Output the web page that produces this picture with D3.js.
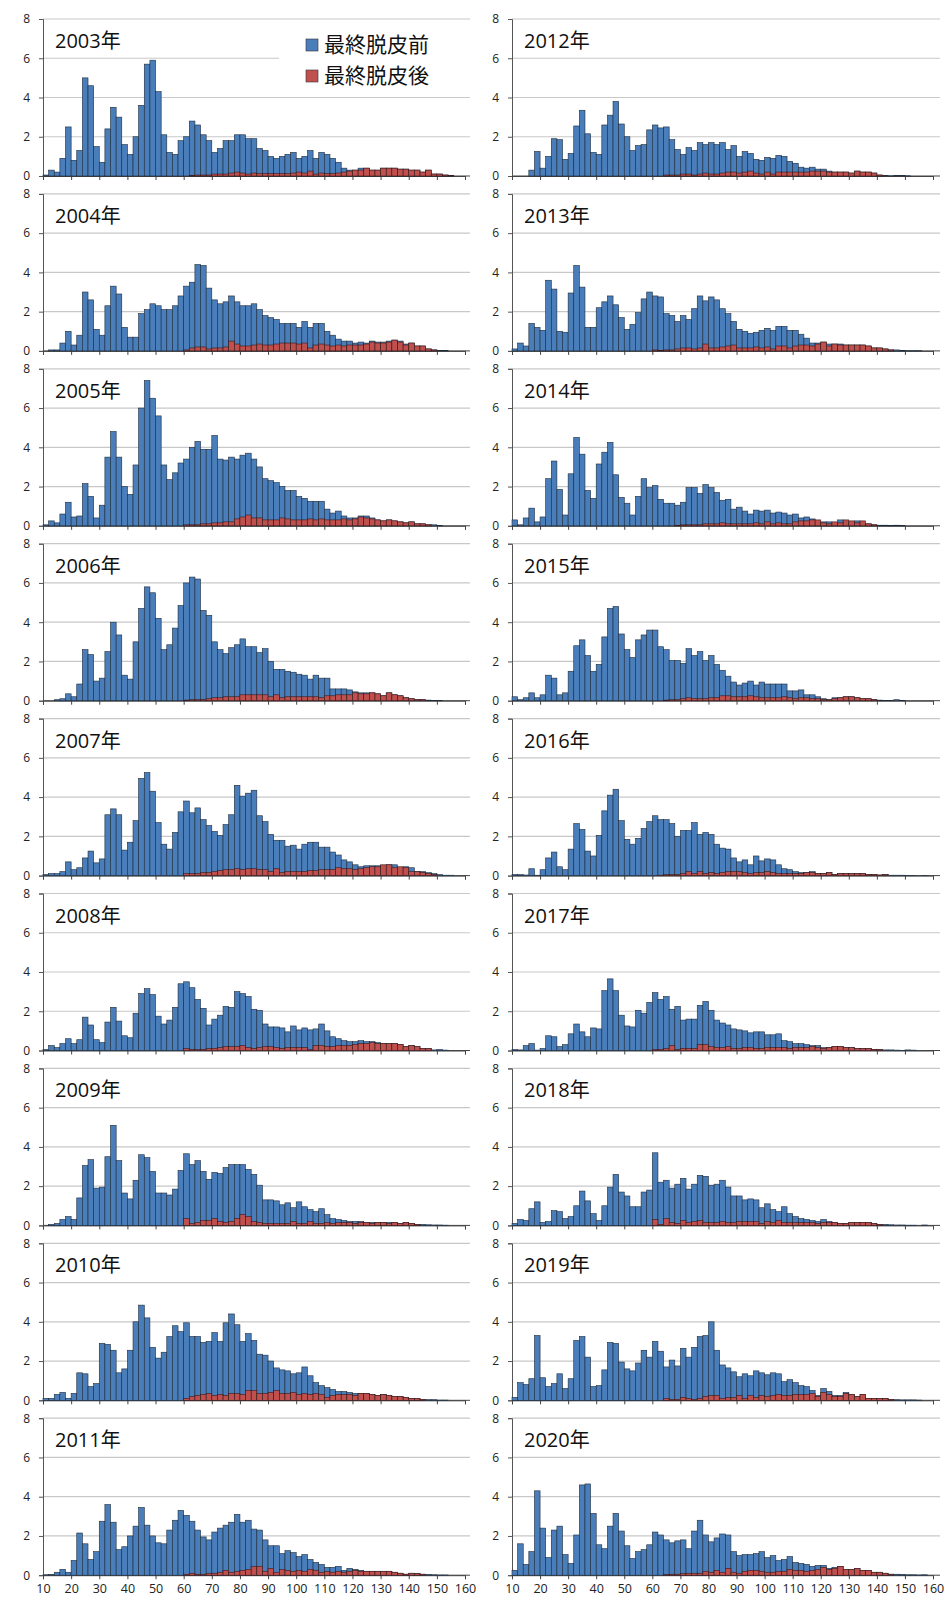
<!DOCTYPE html>
<html><head><meta charset="utf-8">
<script src="https://cdn.jsdelivr.net/npm/d3@7"></script>
<style>body{margin:0;background:#fff}svg{display:block}</style>
</head><body>
<script>
const years = [2003,2004,2005,2006,2007,2008,2009,2010,2011,2012,2013,2014,2015,2016,2017,2018,2019,2020];
const binStarts = d3.range(10,158,2); // 2mm bins 10..156
const yTicks = [0,2,4,6,8];
const xTicks = [10,20,30,40,50,60,70,80,90,100,110,120,130,140,150,160];
const legendLabels = ["最終脱皮前","最終脱皮後"];

const blue2003=[0.05,0.3,0.2,0.9,2.5,0.8,1.3,5.0,4.6,1.5,0.7,2.4,3.5,3.0,1.6,1.1,2.0,3.6,5.7,5.9,4.3,2.1,1.2,1.1,1.8,2.0,2.8,2.6,2.1,1.8,1.2,1.4,1.8,1.8,2.1,2.1,1.9,1.9,1.4,1.3,1.0,0.9,1.0,1.1,1.2,0.9,1.0,1.3,0.9,1.2,1.1,0.9,0.7,0.4,0.3,0.3,0.4,0.4,0.3,0.3,0.4,0.4,0.4,0.35,0.35,0.3,0.3,0.2,0.3,0.1,0.1,0.05,0.02,0];
const red2003=[0,0,0,0,0,0,0,0,0,0,0,0,0,0,0,0,0,0,0,0,0,0,0,0,0,0,0.03,0.05,0.05,0.05,0.1,0.1,0.1,0.15,0.2,0.15,0.1,0.15,0.12,0.12,0.12,0.12,0.12,0.12,0.15,0.2,0.15,0.25,0.1,0.15,0.12,0.12,0.15,0.2,0.25,0.3,0.3,0.4,0.3,0.3,0.4,0.4,0.4,0.35,0.35,0.3,0.3,0.2,0.3,0.1,0.1,0.05,0.02,0];
const blue2004=[0,0.05,0.05,0.4,1.0,0.3,0.8,3.0,2.6,1.1,0.8,2.3,3.3,2.9,1.2,0.7,0.7,1.9,2.1,2.4,2.3,2.1,2.1,2.3,2.8,3.3,3.5,4.4,4.35,3.2,2.6,2.4,2.5,2.8,2.5,2.3,2.3,2.4,2.1,1.8,1.7,1.6,1.4,1.4,1.4,1.2,1.5,1.2,1.4,1.4,1.0,0.8,0.6,0.5,0.5,0.4,0.45,0.4,0.5,0.45,0.45,0.5,0.55,0.5,0.35,0.4,0.25,0.25,0.1,0.05,0.03,0.02,0,0];
const red2004=[0,0,0,0,0,0,0,0,0,0,0,0,0,0,0,0,0,0,0,0,0,0,0,0,0,0.05,0.15,0.2,0.2,0.1,0.15,0.15,0.2,0.5,0.35,0.25,0.25,0.3,0.35,0.3,0.3,0.35,0.4,0.4,0.4,0.35,0.4,0.15,0.3,0.35,0.3,0.25,0.3,0.25,0.3,0.3,0.3,0.35,0.45,0.4,0.4,0.45,0.55,0.45,0.3,0.4,0.25,0.25,0.1,0.05,0,0,0,0];
const blue2005=[0.05,0.25,0.15,0.6,1.2,0.45,0.5,2.15,1.5,0.4,1.05,3.5,4.8,3.5,2.0,1.6,3.1,6.0,7.4,6.5,5.6,3.1,2.35,2.7,3.2,3.4,4.0,4.3,3.9,3.9,4.6,3.4,3.35,3.5,3.4,3.6,3.7,3.4,3.0,2.4,2.3,2.2,2.0,1.8,1.8,1.5,1.4,1.25,1.25,1.25,0.85,0.65,0.75,0.5,0.4,0.4,0.5,0.5,0.4,0.3,0.25,0.3,0.25,0.2,0.15,0.2,0.1,0.1,0.05,0.05,0.02,0,0,0];
const red2005=[0,0,0,0,0,0,0,0,0,0,0,0,0,0,0,0,0,0,0,0,0,0,0,0,0,0.05,0.05,0.05,0.1,0.1,0.15,0.15,0.2,0.2,0.35,0.45,0.55,0.4,0.4,0.3,0.3,0.3,0.4,0.35,0.3,0.3,0.3,0.35,0.3,0.35,0.3,0.3,0.3,0.35,0.3,0.35,0.45,0.4,0.35,0.3,0.25,0.3,0.25,0.2,0.15,0.2,0.1,0.1,0.05,0,0,0,0,0];
const blue2006=[0,0,0.05,0.1,0.35,0.2,0.85,2.6,2.35,1.0,1.15,2.5,4.0,3.35,1.3,1.1,3.0,4.7,5.8,5.5,4.2,2.6,2.85,3.7,4.85,6.0,6.3,6.2,4.6,4.35,3.0,2.6,2.4,2.7,2.85,3.15,2.75,2.75,2.45,2.65,2.0,1.6,1.6,1.5,1.45,1.35,1.3,1.1,1.3,1.15,1.15,0.6,0.6,0.6,0.55,0.45,0.4,0.4,0.4,0.35,0.25,0.4,0.3,0.25,0.15,0.1,0.05,0.05,0.03,0.02,0.02,0,0,0];
const red2006=[0,0,0,0,0,0,0,0,0,0,0,0,0,0,0,0,0,0,0,0,0,0,0,0,0,0.03,0.05,0.05,0.05,0.1,0.15,0.15,0.2,0.2,0.2,0.3,0.3,0.3,0.3,0.3,0.2,0.3,0.15,0.2,0.2,0.2,0.2,0.2,0.2,0.15,0.25,0.25,0.3,0.3,0.3,0.4,0.35,0.35,0.4,0.35,0.25,0.4,0.3,0.25,0.15,0.1,0.05,0.05,0,0,0,0,0,0];
const blue2007=[0.05,0.1,0.1,0.2,0.7,0.3,0.4,0.9,1.25,0.65,0.85,3.1,3.4,3.1,1.3,1.7,2.8,4.95,5.25,4.3,2.7,1.6,1.35,2.2,3.25,3.8,3.2,3.45,2.85,2.55,2.25,2.05,2.6,3.1,4.6,4.05,4.2,4.35,3.05,2.75,2.1,1.8,1.8,1.5,1.55,1.35,1.6,1.7,1.7,1.45,1.45,1.2,1.05,0.8,0.7,0.55,0.45,0.5,0.5,0.5,0.5,0.55,0.55,0.4,0.45,0.4,0.2,0.2,0.15,0.1,0.05,0.02,0.02,0];
const red2007=[0,0,0,0,0,0,0,0,0,0,0,0,0,0,0,0,0,0,0,0,0,0,0,0,0,0.1,0.1,0.1,0.15,0.15,0.2,0.25,0.3,0.3,0.35,0.3,0.35,0.35,0.3,0.3,0.2,0.35,0.15,0.2,0.2,0.2,0.2,0.25,0.25,0.3,0.3,0.3,0.4,0.35,0.35,0.3,0.35,0.4,0.45,0.45,0.55,0.55,0.4,0.45,0.4,0.2,0.2,0.15,0.1,0.05,0,0,0,0];
const blue2008=[0.05,0.25,0.15,0.35,0.6,0.35,0.55,1.7,1.3,0.55,0.4,1.45,2.2,1.5,0.75,0.65,1.9,2.9,3.15,2.85,1.75,1.35,1.55,2.2,3.4,3.5,3.2,2.6,2.15,1.3,1.6,1.8,2.25,2.2,3.0,2.9,2.75,2.1,2.05,1.35,1.2,1.2,1.15,0.95,1.25,1.05,1.15,1.05,1.1,1.35,1.0,0.7,0.6,0.5,0.45,0.45,0.5,0.45,0.45,0.4,0.35,0.35,0.35,0.3,0.2,0.25,0.2,0.1,0.1,0.03,0.05,0.02,0,0];
const red2008=[0,0,0,0,0,0,0,0,0,0,0,0,0,0,0,0,0,0,0,0,0,0,0,0,0,0.1,0.05,0.05,0.05,0.1,0.1,0.15,0.2,0.2,0.2,0.25,0.15,0.1,0.15,0.2,0.2,0.15,0.1,0.15,0.15,0.15,0.15,0.05,0.25,0.25,0.2,0.2,0.25,0.25,0.25,0.3,0.35,0.35,0.4,0.35,0.35,0.35,0.35,0.3,0.2,0.25,0.2,0.1,0.1,0,0,0,0,0];
const blue2009=[0,0.05,0.1,0.3,0.45,0.3,1.4,3.05,3.35,1.9,1.95,3.5,5.1,3.3,1.65,1.35,2.3,3.6,3.45,2.75,1.65,1.65,1.55,1.85,2.8,3.65,3.1,3.3,2.75,2.35,2.7,2.65,2.95,3.1,3.1,3.1,2.85,2.6,2.05,1.3,1.3,1.25,1.05,1.15,0.9,1.2,0.95,0.8,0.7,0.85,0.55,0.35,0.3,0.25,0.2,0.2,0.2,0.15,0.15,0.15,0.15,0.15,0.15,0.1,0.15,0.1,0.05,0.05,0.03,0.02,0.02,0.01,0,0];
const red2009=[0,0,0,0,0,0,0,0,0,0,0,0,0,0,0,0,0,0,0,0,0,0,0,0,0,0.35,0.1,0.15,0.25,0.25,0.35,0.2,0.15,0.2,0.35,0.55,0.45,0.2,0.15,0.1,0.1,0.1,0.1,0.1,0.2,0.1,0.1,0.2,0.1,0.1,0.15,0.1,0.15,0.15,0.15,0.1,0.15,0.15,0.1,0.15,0.15,0.1,0.15,0.1,0.15,0.1,0.05,0,0,0,0,0,0,0];
const blue2010=[0.1,0.1,0.3,0.4,0.1,0.35,1.4,1.35,0.7,0.85,2.9,2.85,2.55,1.4,1.6,2.55,4.0,4.85,4.2,2.7,2.15,2.45,3.25,3.8,3.5,3.95,3.25,3.25,2.95,3.0,3.45,3.0,3.95,4.4,3.85,3.0,3.4,3.05,2.35,2.3,2.0,1.65,1.55,1.5,1.35,1.4,1.7,1.25,0.9,0.75,0.65,0.55,0.45,0.45,0.4,0.35,0.35,0.35,0.3,0.25,0.3,0.25,0.2,0.2,0.15,0.1,0.1,0.05,0.03,0.03,0.01,0.01,0,0];
const red2010=[0,0,0,0,0,0,0,0,0,0,0,0,0,0,0,0,0,0,0,0,0,0,0,0,0,0.1,0.2,0.25,0.3,0.35,0.25,0.3,0.25,0.35,0.35,0.3,0.5,0.5,0.35,0.35,0.4,0.5,0.35,0.35,0.4,0.3,0.35,0.3,0.35,0.3,0.15,0.25,0.3,0.3,0.3,0.25,0.35,0.35,0.3,0.25,0.3,0.25,0.2,0.2,0.15,0.1,0.1,0.05,0,0,0,0,0,0];
const blue2011=[0.02,0.03,0.15,0.3,0.15,0.75,2.15,1.6,0.8,1.2,2.75,3.6,2.7,1.3,1.45,2.0,2.5,3.45,2.55,2.0,1.65,1.6,2.3,2.8,3.3,3.05,2.75,2.3,1.95,1.8,2.2,2.4,2.55,2.7,3.1,2.7,2.8,2.35,2.3,1.8,1.5,1.5,1.1,1.25,1.15,0.95,1.05,0.8,0.65,0.55,0.4,0.4,0.45,0.25,0.35,0.3,0.25,0.2,0.2,0.2,0.2,0.2,0.15,0.1,0.05,0.1,0.08,0.05,0.03,0.02,0.01,0.01,0,0];
const red2011=[0,0,0,0,0,0,0,0,0,0,0,0,0,0,0,0,0,0,0,0,0,0,0,0,0,0.05,0.1,0.05,0.05,0.1,0.1,0.15,0.25,0.15,0.2,0.25,0.3,0.45,0.45,0.2,0.35,0.15,0.3,0.25,0.2,0.25,0.2,0.3,0.25,0.15,0.2,0.15,0.2,0.15,0.2,0.25,0.2,0.2,0.2,0.2,0.2,0.2,0.15,0.1,0.05,0.1,0.08,0.05,0,0,0,0,0,0];
const blue2012=[0,0,0,0.3,1.25,0.4,1.0,1.9,1.85,0.85,1.15,2.55,3.35,2.15,1.2,1.1,2.6,3.1,3.8,2.65,2.0,1.3,1.55,1.6,2.35,2.6,2.45,2.5,1.85,1.35,1.1,1.45,1.3,1.7,1.6,1.7,1.6,1.7,1.35,1.55,1.0,1.25,1.15,0.85,0.8,0.95,0.9,1.05,1.0,0.75,0.65,0.45,0.4,0.45,0.35,0.35,0.25,0.2,0.2,0.2,0.15,0.25,0.2,0.2,0.15,0.05,0.02,0.01,0.02,0.02,0.01,0,0,0];
const red2012=[0,0,0,0,0,0,0,0,0,0,0,0,0,0,0,0,0,0,0,0,0,0,0,0,0,0,0,0.05,0.05,0.05,0.1,0.1,0.05,0.1,0.15,0.1,0.1,0.15,0.2,0.2,0.15,0.2,0.25,0.15,0.1,0.2,0.1,0.2,0.2,0.2,0.2,0.2,0.2,0.25,0.25,0.25,0.2,0.2,0.2,0.2,0.15,0.25,0.2,0.2,0.15,0.05,0,0,0,0,0,0,0,0];
const blue2013=[0.1,0.4,0.25,1.4,1.2,1.05,3.6,3.15,1.0,0.95,2.95,4.35,3.25,1.2,1.2,2.2,2.5,2.8,2.35,1.7,1.1,1.35,1.95,2.65,3.0,2.8,2.75,1.9,1.8,1.5,1.8,1.6,2.15,2.8,2.55,2.75,2.6,2.15,1.9,1.5,1.1,1.0,0.9,0.95,1.05,1.15,1.05,1.25,1.25,1.05,1.05,0.85,0.65,0.4,0.4,0.45,0.35,0.35,0.35,0.3,0.3,0.3,0.3,0.25,0.15,0.15,0.1,0.05,0.05,0.03,0.01,0.01,0.01,0];
const red2013=[0,0,0,0,0,0,0,0,0,0,0,0,0,0,0,0,0,0,0,0,0,0,0,0,0,0.05,0.02,0.05,0.05,0.1,0.15,0.15,0.1,0.15,0.35,0.15,0.15,0.2,0.25,0.3,0.15,0.15,0.15,0.2,0.15,0.2,0.1,0.25,0.25,0.15,0.25,0.3,0.3,0.25,0.35,0.45,0.25,0.35,0.3,0.3,0.3,0.3,0.3,0.25,0.15,0.15,0.1,0.05,0,0,0,0,0,0];
const blue2014=[0.3,0.05,0.4,0.9,0.2,0.45,2.4,3.3,1.85,0.55,2.65,4.5,3.65,1.8,1.4,3.15,3.75,4.25,2.6,1.45,1.15,0.55,1.5,2.4,1.95,2.05,1.35,1.15,1.15,1.05,1.2,1.95,1.95,1.65,2.1,1.95,1.7,1.3,1.35,0.85,0.95,0.75,0.6,0.8,0.75,0.8,0.65,0.7,0.65,0.55,0.6,0.4,0.45,0.35,0.2,0.2,0.2,0.15,0.3,0.2,0.15,0.25,0.1,0.1,0.05,0.03,0.03,0.02,0.03,0.01,0,0,0,0];
const red2014=[0,0,0,0,0,0,0,0,0,0,0,0,0,0,0,0,0,0,0,0,0,0,0,0,0,0,0,0,0,0.02,0.05,0.05,0.05,0.05,0.1,0.1,0.1,0.15,0.1,0.1,0.1,0.1,0.1,0.15,0.1,0.2,0.1,0.15,0.1,0.1,0.2,0.25,0.25,0.3,0.3,0.15,0.1,0.2,0.15,0.3,0.25,0.15,0.25,0.1,0.05,0,0,0,0,0,0,0,0,0];
const blue2015=[0.2,0.05,0.15,0.4,0.15,0.3,1.3,1.15,0.3,0.4,1.5,2.8,3.1,2.3,1.5,1.85,3.25,4.7,4.8,3.4,2.6,2.2,3.1,3.35,3.6,3.6,2.75,2.6,2.05,2.05,1.9,2.65,2.3,2.5,2.05,2.3,1.85,1.55,1.25,0.95,0.8,0.9,1.0,0.8,0.95,0.85,0.85,0.85,0.85,0.5,0.5,0.55,0.3,0.3,0.2,0.1,0.05,0.15,0.15,0.2,0.2,0.15,0.1,0.1,0.05,0.03,0.02,0.02,0.05,0.02,0,0,0,0];
const red2015=[0,0,0,0,0,0,0,0,0,0,0,0,0,0,0,0,0,0,0,0,0,0,0,0,0,0,0,0.03,0.05,0.05,0.1,0.15,0.1,0.1,0.1,0.15,0.15,0.25,0.25,0.2,0.2,0.2,0.25,0.2,0.15,0.15,0.15,0.15,0.2,0.15,0.1,0.15,0.15,0.1,0.1,0.05,0.05,0.1,0.15,0.2,0.2,0.15,0.1,0.1,0.05,0,0,0,0,0,0,0,0,0];
const blue2016=[0.05,0.05,0.03,0.35,0.02,0.3,0.9,1.2,0.45,0.3,1.35,2.65,2.35,1.25,1.0,2.05,3.3,4.1,4.4,2.8,1.85,1.6,1.9,2.4,2.75,3.05,2.85,2.85,2.65,2.0,2.3,2.3,2.7,2.1,2.2,2.1,1.6,1.4,1.35,0.9,0.7,0.8,0.55,1.0,0.75,0.85,0.8,0.55,0.35,0.3,0.2,0.15,0.15,0.2,0.1,0.1,0.15,0.05,0.1,0.1,0.1,0.1,0.1,0.05,0.05,0.03,0.05,0.02,0.02,0.02,0.01,0.01,0,0.01];
const red2016=[0,0,0,0,0,0,0,0,0,0,0,0,0,0,0,0,0,0,0,0,0,0,0,0,0,0,0.02,0.05,0.05,0.05,0.1,0.2,0.1,0.2,0.1,0.15,0.1,0.15,0.2,0.2,0.2,0.15,0.1,0.15,0.15,0.2,0.15,0.1,0.1,0.1,0.1,0.1,0.15,0.15,0.1,0.1,0.15,0.05,0.1,0.1,0.1,0.1,0.1,0.05,0.05,0.03,0.05,0,0,0,0,0,0,0];
const blue2017=[0.05,0.03,0.25,0.35,0.02,0.1,0.75,0.7,0.2,0.3,0.85,1.35,0.95,0.7,1.15,1.1,3.05,3.65,3.05,1.8,1.25,1.2,2.05,1.9,2.45,2.95,2.6,2.75,2.1,2.25,1.55,1.6,1.6,2.3,2.5,2.05,1.55,1.4,1.3,1.1,1.05,1.0,0.9,0.95,0.95,0.8,0.8,0.85,0.5,0.45,0.35,0.35,0.3,0.25,0.25,0.15,0.15,0.2,0.2,0.15,0.15,0.1,0.1,0.1,0.05,0.05,0.03,0.03,0.02,0.01,0.03,0.02,0,0];
const red2017=[0,0,0,0,0,0,0,0,0,0,0,0,0,0,0,0,0,0,0,0,0,0,0,0,0,0.05,0.05,0.1,0.25,0.05,0.1,0.1,0.1,0.3,0.3,0.2,0.15,0.15,0.2,0.1,0.1,0.15,0.15,0.1,0.1,0.15,0.15,0.15,0.15,0.1,0.15,0.15,0.15,0.2,0.15,0.1,0.15,0.2,0.2,0.15,0.15,0.1,0.1,0.1,0.05,0.05,0,0,0,0,0,0,0,0];
const blue2018=[0.1,0.3,0.25,0.85,1.2,0.15,0.2,0.75,0.7,0.35,0.45,1.0,1.75,1.25,0.6,0.25,1.0,1.95,2.6,1.7,1.5,0.95,0.95,1.7,1.8,3.7,2.2,2.3,1.9,2.1,2.4,1.85,2.1,2.55,2.5,2.05,2.1,2.3,1.95,1.5,1.5,1.3,1.35,1.3,0.9,1.1,0.8,0.7,0.95,0.6,0.45,0.35,0.3,0.25,0.2,0.3,0.2,0.15,0.1,0.1,0.15,0.15,0.15,0.15,0.1,0.05,0.05,0.03,0.02,0.02,0.01,0.01,0,0.02];
const red2018=[0,0,0,0,0,0,0,0,0,0,0,0,0,0,0,0,0,0,0,0,0,0,0,0,0,0.3,0.05,0.35,0.15,0.1,0.25,0.15,0.2,0.25,0.15,0.15,0.15,0.2,0.15,0.15,0.2,0.2,0.2,0.2,0.1,0.2,0.15,0.25,0.15,0.15,0.15,0.15,0.15,0.15,0.1,0.15,0.15,0.15,0.1,0.1,0.15,0.15,0.15,0.15,0.1,0.05,0,0,0,0,0,0,0,0];
const blue2019=[0.15,0.9,0.8,1.1,3.3,1.15,0.7,0.85,1.35,0.6,1.1,3.05,3.25,2.2,0.7,0.75,1.55,2.95,2.9,1.95,1.6,1.5,1.9,2.55,2.2,3.0,2.5,1.7,2.05,1.75,2.65,2.2,2.7,3.25,3.3,4.0,2.55,1.8,1.65,1.45,1.2,1.35,1.25,1.5,1.4,1.3,1.4,1.35,0.95,1.05,0.9,0.75,0.7,0.5,0.25,0.6,0.45,0.25,0.25,0.4,0.3,0.2,0.3,0.1,0.1,0.1,0.1,0.05,0.03,0.02,0.02,0.02,0.01,0];
const red2019=[0,0,0,0,0,0,0,0,0,0,0,0,0,0,0,0,0,0,0,0,0,0,0,0,0,0,0,0.1,0.05,0.05,0.15,0.1,0.05,0.1,0.2,0.25,0.25,0.1,0.15,0.15,0.25,0.1,0.25,0.15,0.25,0.2,0.25,0.3,0.25,0.25,0.3,0.3,0.3,0.35,0.2,0.4,0.3,0.2,0.2,0.35,0.3,0.2,0.3,0.1,0.1,0.1,0.1,0.05,0,0,0,0,0,0];
const blue2020=[0.25,1.6,0.55,1.2,4.3,2.4,0.9,2.3,2.5,1.05,0.6,2.05,4.6,4.65,3.15,1.55,1.35,2.5,3.15,2.25,1.5,0.85,1.2,1.3,1.55,2.2,2.05,1.8,1.65,1.75,1.8,1.35,2.25,2.8,2.05,1.7,1.9,2.1,2.05,1.2,1.0,1.05,1.05,1.1,1.2,0.9,1.0,0.75,0.8,0.95,0.65,0.6,0.55,0.45,0.5,0.5,0.35,0.4,0.45,0.3,0.3,0.35,0.25,0.25,0.15,0.15,0.1,0.05,0.05,0.03,0.02,0.02,0.01,0.02];
const red2020=[0,0,0,0,0,0,0,0,0,0,0,0,0,0,0,0,0,0,0,0,0,0,0,0,0,0,0,0.03,0.05,0.05,0.08,0.1,0.1,0.1,0.2,0.15,0.25,0.15,0.35,0.15,0.1,0.2,0.25,0.25,0.2,0.15,0.15,0.2,0.2,0.3,0.25,0.25,0.2,0.25,0.3,0.4,0.3,0.35,0.45,0.3,0.3,0.35,0.25,0.25,0.15,0.15,0.1,0.05,0,0,0,0,0,0];

const blueSeries=[blue2003,blue2004,blue2005,blue2006,blue2007,blue2008,blue2009,blue2010,blue2011,blue2012,blue2013,blue2014,blue2015,blue2016,blue2017,blue2018,blue2019,blue2020];
const redSeries=[red2003,red2004,red2005,red2006,red2007,red2008,red2009,red2010,red2011,red2012,red2013,red2014,red2015,red2016,red2017,red2018,red2019,red2020];

const W=952,H=1606;
const svg=d3.select("body").append("svg").attr("width",W).attr("height",H);
const font='"Open Sans","Noto Sans CJK JP",sans-serif';
const BLUE="#4a7ebb", RED="#c0504d";
const cols=[{x0:43,x1:465,gridEnd:470,labelX:26},{x0:512,x1:933,gridEnd:940,labelX:495}];
const panelTop=19, panelStep=174.9, plotH=157;

years.forEach((yr,i)=>{
  const c=cols[Math.floor(i/9)], r=i%9;
  const top=panelTop+r*panelStep, bot=top+plotH;
  const x=d3.scaleLinear().domain([10,160]).range([c.x0,c.x1]);
  const y=d3.scaleLinear().domain([0,8]).range([bot,top]);
  const g=svg.append("g");
  // gridlines
  g.selectAll("line.grid").data(yTicks).join("line")
    .attr("x1",c.x0).attr("x2",c.gridEnd).attr("y1",d=>y(d)).attr("y2",d=>y(d))
    .attr("stroke",d=>d===0?"#444":"#c8c8c8").attr("stroke-width",d=>d===0?1:1.2);
  // y axis
  const ya=g.append("g").attr("transform",`translate(${c.x0},0)`)
    .call(d3.axisLeft(y).tickValues(yTicks).tickSize(4).tickPadding(c.x0-c.labelX-8));
  ya.select(".domain").attr("stroke","#555");
  ya.selectAll(".tick line").attr("stroke","#555");
  ya.selectAll("text").attr("font-family",font).attr("font-size",12).attr("fill","#222");
  // x axis ticks
  const xa=g.append("g").attr("transform",`translate(0,${bot})`)
    .call(d3.axisBottom(x).tickValues(xTicks).tickSize(4).tickFormat(r===8?d3.format("d"):""));
  xa.select(".domain").attr("stroke","#444");
  xa.selectAll(".tick line").attr("stroke","#444");
  xa.selectAll("text").attr("font-family",font).attr("font-size",12.5).attr("fill","#222").attr("dy","0.9em");
  const bw=x(12)-x(10);
  const bl=blueSeries[i], rd=redSeries[i];
  g.selectAll("rect.b").data(binStarts.map((s,k)=>({s,v:bl[k]||0}))).join("rect")
    .attr("x",d=>x(d.s)).attr("width",bw).attr("y",d=>y(d.v)).attr("height",d=>bot-y(d.v))
    .attr("fill",BLUE).attr("stroke","#1c2a3a").attr("stroke-width",0.6);
  g.selectAll("rect.r").data(binStarts.map((s,k)=>({s,v:rd[k]||0})).filter(d=>d.v>0)).join("rect")
    .attr("x",d=>x(d.s)).attr("width",bw).attr("y",d=>y(d.v)).attr("height",d=>bot-y(d.v))
    .attr("fill",RED).attr("stroke","#3a1a1a").attr("stroke-width",0.6);
  g.append("text").attr("x",c.x0+12).attr("y",top+29).text(yr+"年")
    .attr("font-family",font).attr("font-size",20).attr("fill","#111");
  if(i===0){
    const lg=g.append("g");
    lg.append("rect").attr("x",279).attr("y",top+6).attr("width",191).attr("height",66).attr("fill","#fff");
    legendLabels.forEach((t,k)=>{
      lg.append("rect").attr("x",306).attr("y",top+20+k*31).attr("width",12).attr("height",12)
        .attr("fill",k===0?BLUE:RED).attr("stroke","#333").attr("stroke-width",0.6);
      lg.append("text").attr("x",324).attr("y",top+33+k*31).text(t)
        .attr("font-family",font).attr("font-size",21).attr("fill","#111");
    });
  }
});
</script>
</body></html>
